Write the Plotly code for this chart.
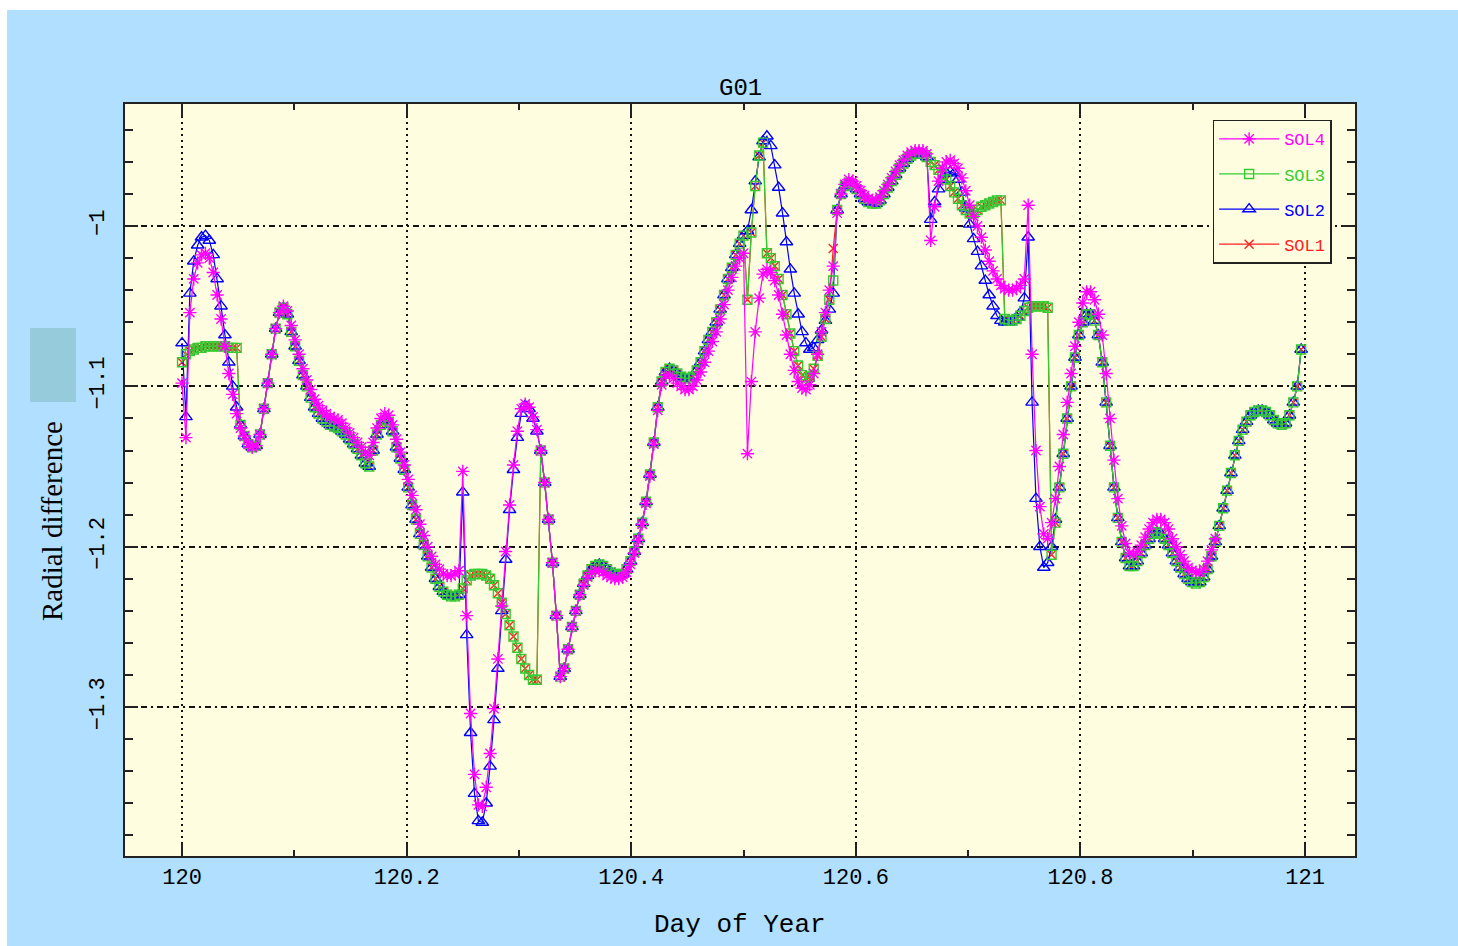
import plotly.graph_objects as go

# ---- data (5-minute samples starting at day 120.0) ----
step_minutes = 5
start_day = 120.0

sol3 = [
    -1.085, -1.080, -1.078, -1.077, -1.076, -1.076, -1.075, -1.075, -1.075, -1.075, -1.075, -1.075,
    -1.076, -1.076, -1.076, -1.124, -1.131, -1.136, -1.138, -1.137, -1.130, -1.114, -1.098, -1.080,
    -1.064, -1.054, -1.051, -1.055, -1.066, -1.075, -1.084, -1.093, -1.100, -1.107, -1.113, -1.117,
    -1.120, -1.122, -1.124, -1.125, -1.126, -1.128, -1.130, -1.133, -1.136, -1.139, -1.143, -1.148,
    -1.150, -1.140, -1.130, -1.124, -1.121, -1.122, -1.128, -1.138, -1.145, -1.152, -1.163, -1.174,
    -1.183, -1.192, -1.199, -1.206, -1.213, -1.220, -1.225, -1.228, -1.230, -1.231, -1.231, -1.230,
    -1.226, -1.221, -1.218, -1.217, -1.217, -1.217, -1.218, -1.220, -1.224, -1.229, -1.235, -1.242,
    -1.249, -1.256, -1.263, -1.270, -1.276, -1.280, -1.283, -1.283, -1.140, -1.160, -1.183, -1.210,
    -1.243, -1.281, -1.276, -1.264, -1.250, -1.240, -1.230, -1.223, -1.218, -1.214, -1.212, -1.211,
    -1.212, -1.214, -1.216, -1.217, -1.218, -1.217, -1.214, -1.209, -1.203, -1.195, -1.185, -1.172,
    -1.155, -1.135, -1.113, -1.097, -1.091, -1.089, -1.090, -1.092, -1.094, -1.095, -1.095, -1.094,
    -1.090, -1.085, -1.078, -1.071, -1.066, -1.060, -1.052, -1.043, -1.033, -1.026, -1.018, -1.011,
    -1.006, -1.046, -1.004, -0.975, -0.956, -0.948, -1.017, -1.020, -1.025, -1.033, -1.043, -1.055,
    -1.067, -1.078, -1.087, -1.093, -1.095, -1.094, -1.089, -1.081, -1.069, -1.058, -1.046, -1.034,
    -0.990, -0.980, -0.975, -0.973, -0.974, -0.977, -0.980, -0.983, -0.985, -0.986, -0.986, -0.984,
    -0.980, -0.976, -0.972, -0.968, -0.964, -0.961, -0.958, -0.956, -0.955, -0.955, -0.955, -0.957,
    -0.960, -0.962, -0.965, -0.968, -0.971, -0.975, -0.979, -0.983, -0.987, -0.990, -0.992, -0.992,
    -0.990, -0.988, -0.987, -0.986, -0.985, -0.984, -0.984, -1.058, -1.059, -1.059, -1.058, -1.056,
    -1.053, -1.051, -1.050, -1.050, -1.050, -1.050, -1.051, -1.205, -1.185, -1.163, -1.142, -1.120,
    -1.100, -1.082, -1.068, -1.060, -1.055, -1.055, -1.059, -1.068, -1.085, -1.110, -1.137, -1.163,
    -1.182, -1.197, -1.207, -1.212, -1.212, -1.209, -1.204, -1.199, -1.195, -1.192, -1.191, -1.192,
    -1.195, -1.199, -1.204, -1.209, -1.213, -1.217, -1.220, -1.222, -1.223, -1.222, -1.219, -1.214,
    -1.206, -1.197, -1.187, -1.176, -1.165, -1.154, -1.143, -1.134, -1.127, -1.122, -1.118, -1.116,
    -1.115, -1.115, -1.116, -1.118, -1.121, -1.123, -1.124, -1.123, -1.118, -1.110, -1.100, -1.077,
]

sol1 = [
    -1.085, -1.080, -1.078, -1.077, -1.076, -1.076, -1.075, -1.075, -1.075, -1.075, -1.075, -1.075,
    -1.076, -1.076, -1.076, -1.124, -1.131, -1.136, -1.138, -1.137, -1.130, -1.114, -1.098, -1.080,
    -1.064, -1.054, -1.051, -1.055, -1.066, -1.075, -1.084, -1.093, -1.100, -1.107, -1.113, -1.117,
    -1.120, -1.122, -1.124, -1.125, -1.126, -1.128, -1.130, -1.133, -1.136, -1.139, -1.143, -1.148,
    -1.150, -1.140, -1.130, -1.124, -1.121, -1.122, -1.128, -1.138, -1.145, -1.152, -1.163, -1.174,
    -1.183, -1.192, -1.199, -1.206, -1.213, -1.220, -1.225, -1.228, -1.230, -1.231, -1.231, -1.230,
    -1.226, -1.221, -1.218, -1.217, -1.217, -1.217, -1.218, -1.220, -1.224, -1.229, -1.235, -1.242,
    -1.249, -1.256, -1.263, -1.270, -1.276, -1.280, -1.283, -1.283, -1.140, -1.160, -1.183, -1.210,
    -1.243, -1.281, -1.276, -1.264, -1.250, -1.240, -1.230, -1.223, -1.218, -1.214, -1.212, -1.211,
    -1.212, -1.214, -1.216, -1.217, -1.218, -1.217, -1.214, -1.209, -1.203, -1.195, -1.185, -1.172,
    -1.155, -1.135, -1.113, -1.097, -1.091, -1.089, -1.090, -1.092, -1.094, -1.095, -1.095, -1.094,
    -1.090, -1.085, -1.078, -1.071, -1.066, -1.060, -1.052, -1.043, -1.033, -1.026, -1.018, -1.011,
    -1.006, -1.046, -1.004, -0.975, -0.956, -0.948, -1.017, -1.020, -1.025, -1.033, -1.043, -1.055,
    -1.067, -1.078, -1.087, -1.093, -1.095, -1.094, -1.089, -1.081, -1.069, -1.058, -1.046, -1.014,
    -0.990, -0.980, -0.975, -0.973, -0.974, -0.977, -0.980, -0.983, -0.985, -0.986, -0.986, -0.984,
    -0.980, -0.976, -0.972, -0.968, -0.964, -0.961, -0.958, -0.956, -0.955, -0.955, -0.955, -0.957,
    -0.960, -0.962, -0.965, -0.968, -0.971, -0.975, -0.979, -0.983, -0.987, -0.990, -0.992, -0.992,
    -0.990, -0.988, -0.987, -0.986, -0.985, -0.984, -0.984, -1.058, -1.059, -1.059, -1.058, -1.056,
    -1.053, -1.051, -1.050, -1.050, -1.050, -1.050, -1.051, -1.205, -1.185, -1.163, -1.142, -1.120,
    -1.100, -1.082, -1.068, -1.060, -1.055, -1.055, -1.059, -1.068, -1.085, -1.110, -1.137, -1.163,
    -1.182, -1.197, -1.207, -1.212, -1.212, -1.209, -1.204, -1.199, -1.195, -1.192, -1.191, -1.192,
    -1.195, -1.199, -1.204, -1.209, -1.213, -1.217, -1.220, -1.222, -1.223, -1.222, -1.219, -1.214,
    -1.206, -1.197, -1.187, -1.176, -1.165, -1.154, -1.143, -1.134, -1.127, -1.122, -1.118, -1.116,
    -1.115, -1.115, -1.116, -1.118, -1.121, -1.123, -1.124, -1.123, -1.118, -1.110, -1.100, -1.077,
]

sol2 = [
    -1.073, -1.119, -1.042, -1.022, -1.012, -1.007, -1.006, -1.009, -1.018, -1.033, -1.050, -1.068,
    -1.085, -1.100, -1.113, -1.124, -1.131, -1.136, -1.138, -1.137, -1.130, -1.114, -1.098, -1.080,
    -1.064, -1.054, -1.051, -1.055, -1.066, -1.075, -1.084, -1.093, -1.100, -1.107, -1.113, -1.117,
    -1.120, -1.122, -1.124, -1.125, -1.126, -1.128, -1.130, -1.133, -1.136, -1.139, -1.143, -1.148,
    -1.150, -1.140, -1.130, -1.124, -1.121, -1.122, -1.128, -1.138, -1.145, -1.152, -1.163, -1.174,
    -1.183, -1.192, -1.199, -1.206, -1.213, -1.220, -1.225, -1.228, -1.230, -1.231, -1.231, -1.230,
    -1.166, -1.255, -1.316, -1.354, -1.371, -1.372, -1.360, -1.337, -1.308, -1.276, -1.240, -1.208,
    -1.177, -1.152, -1.132, -1.117, -1.112, -1.114, -1.120, -1.128, -1.140, -1.160, -1.183, -1.210,
    -1.243, -1.281, -1.276, -1.264, -1.250, -1.240, -1.230, -1.223, -1.218, -1.214, -1.212, -1.211,
    -1.212, -1.214, -1.216, -1.217, -1.218, -1.217, -1.214, -1.209, -1.203, -1.195, -1.185, -1.172,
    -1.155, -1.135, -1.113, -1.097, -1.091, -1.089, -1.090, -1.092, -1.094, -1.095, -1.095, -1.094,
    -1.090, -1.085, -1.078, -1.071, -1.066, -1.060, -1.052, -1.043, -1.033, -1.026, -1.018, -1.011,
    -1.006, -1.003, -0.990, -0.972, -0.957, -0.947, -0.944, -0.950, -0.962, -0.976, -0.992, -1.010,
    -1.027, -1.042, -1.055, -1.066, -1.073, -1.077, -1.076, -1.071, -1.065, -1.059, -1.052, -1.042,
    -0.990, -0.980, -0.975, -0.973, -0.974, -0.977, -0.980, -0.983, -0.985, -0.986, -0.986, -0.984,
    -0.980, -0.976, -0.972, -0.968, -0.964, -0.961, -0.958, -0.956, -0.955, -0.955, -0.955, -0.957,
    -0.996, -0.985, -0.977, -0.971, -0.967, -0.966, -0.967, -0.971, -0.979, -0.989, -0.999, -1.008,
    -1.016, -1.025, -1.034, -1.043, -1.050, -1.056, -1.059, -1.060, -1.060, -1.059, -1.057, -1.054,
    -1.045, -1.007, -1.110, -1.170, -1.200, -1.213, -1.210, -1.200, -1.183, -1.163, -1.142, -1.120,
    -1.100, -1.082, -1.068, -1.060, -1.055, -1.055, -1.059, -1.068, -1.085, -1.110, -1.137, -1.163,
    -1.182, -1.197, -1.207, -1.212, -1.212, -1.209, -1.204, -1.199, -1.195, -1.192, -1.191, -1.192,
    -1.195, -1.199, -1.204, -1.209, -1.213, -1.217, -1.220, -1.222, -1.223, -1.222, -1.219, -1.214,
    -1.206, -1.197, -1.187, -1.176, -1.165, -1.154, -1.143, -1.134, -1.127, -1.122, -1.118, -1.116,
    -1.115, -1.115, -1.116, -1.118, -1.121, -1.123, -1.124, -1.123, -1.118, -1.110, -1.100, -1.077,
]

sol4 = [
    -1.098, -1.132, -1.054, -1.033, -1.023, -1.018, -1.017, -1.020, -1.029, -1.043, -1.058, -1.075,
    -1.092, -1.105, -1.117, -1.126, -1.131, -1.136, -1.138, -1.137, -1.130, -1.114, -1.098, -1.080,
    -1.064, -1.054, -1.050, -1.053, -1.062, -1.071, -1.080, -1.089, -1.096, -1.102, -1.108, -1.112,
    -1.115, -1.117, -1.119, -1.120, -1.121, -1.123, -1.126, -1.129, -1.132, -1.135, -1.138, -1.141,
    -1.143, -1.135, -1.126, -1.120, -1.117, -1.118, -1.124, -1.133, -1.141, -1.149, -1.158, -1.168,
    -1.177, -1.186, -1.193, -1.200, -1.206, -1.211, -1.214, -1.217, -1.218, -1.218, -1.217, -1.215,
    -1.153, -1.243, -1.304, -1.342, -1.361, -1.362, -1.350, -1.329, -1.301, -1.270, -1.237, -1.203,
    -1.174, -1.149, -1.128, -1.114, -1.111, -1.113, -1.119, -1.127, -1.140, -1.160, -1.183, -1.210,
    -1.243, -1.281, -1.276, -1.264, -1.250, -1.240, -1.230, -1.224, -1.219, -1.216, -1.215, -1.215,
    -1.216, -1.218, -1.219, -1.220, -1.220, -1.219, -1.216, -1.211, -1.204, -1.196, -1.186, -1.173,
    -1.156, -1.136, -1.115, -1.099, -1.093, -1.093, -1.095, -1.098, -1.100, -1.102, -1.102, -1.100,
    -1.096, -1.091, -1.085, -1.078, -1.072, -1.066, -1.058, -1.049, -1.040, -1.032, -1.025, -1.020,
    -1.017, -1.142, -1.097, -1.066, -1.045, -1.030, -1.027, -1.029, -1.034, -1.043, -1.055, -1.068,
    -1.080, -1.090, -1.097, -1.101, -1.102, -1.099, -1.092, -1.080, -1.066, -1.054, -1.040, -1.025,
    -0.992, -0.980, -0.974, -0.971, -0.972, -0.975, -0.978, -0.981, -0.983, -0.984, -0.984, -0.982,
    -0.978, -0.974, -0.970, -0.966, -0.962, -0.959, -0.956, -0.954, -0.953, -0.953, -0.953, -0.955,
    -1.009, -0.988, -0.972, -0.964, -0.960, -0.959, -0.961, -0.964, -0.970, -0.978, -0.987, -0.994,
    -1.000, -1.007, -1.015, -1.022, -1.028, -1.033, -1.037, -1.039, -1.040, -1.040, -1.039, -1.037,
    -1.033, -0.987, -1.080, -1.140, -1.175, -1.192, -1.195, -1.185, -1.170, -1.150, -1.130, -1.110,
    -1.092, -1.075, -1.060, -1.048, -1.041, -1.041, -1.046, -1.055, -1.068, -1.092, -1.120, -1.146,
    -1.170, -1.187, -1.198, -1.204, -1.205, -1.203, -1.199, -1.194, -1.189, -1.185, -1.183, -1.183,
    -1.185, -1.189, -1.195, -1.200, -1.205, -1.209, -1.213, -1.215, -1.216, -1.216, -1.214, -1.209,
    -1.202, -1.195,
]

series_names = ["SOL1", "SOL2", "SOL3", "SOL4"]
series_values = [sol1, sol2, sol3, sol4]
series_colors = ["#ff2020", "#0000ff", "#33cc33", "#ff00ff"]
series_symbols = ["x-thin-open", "triangle-up-open", "square-open", "asterisk-open"]
series_sizes = [9, 11, 9, 11]
legend_ranks = [4, 3, 2, 1]

x_tick_vals = [120, 120.2, 120.4, 120.6, 120.8, 121]
x_tick_text = ["120", "120.2", "120.4", "120.6", "120.8", "121"]
y_tick_vals = [-1.3, -1.2, -1.1, -1.0]
y_tick_text = ["\u22121.3", "\u22121.2", "\u22121.1", "\u22121"]


def day_axis(n):
    return [start_day + i * step_minutes / 1440.0 for i in range(n)]


fig = go.Figure()
for name, vals, col, sym, sz, rk in zip(series_names, series_values, series_colors,
                                       series_symbols, series_sizes, legend_ranks):
    fig.add_trace(go.Scatter(
        x=day_axis(len(vals)), y=vals, mode="lines+markers",
        name=f'<span style="color:{col}">{name}</span>',
        legendgroup=name, legendrank=rk,
        line=dict(color=col, width=1.2),
        marker=dict(symbol=sym, size=sz, color=col, line=dict(color=col, width=1.4)),
    ))

axis_common = dict(
    showline=True, linecolor="#222222", linewidth=2, mirror="allticks",
    ticks="inside", ticklen=13, tickwidth=1.5, tickcolor="#222222",
    showgrid=True, gridcolor="#111111", gridwidth=1.5,
    zeroline=False,
    tickfont=dict(family="Liberation Mono", size=22, color="#000000"),
)

fig.update_xaxes(
    range=[119.9492, 121.0445], tickmode="array", tickvals=x_tick_vals, ticktext=x_tick_text,
    griddash="2px,4px",
    minor=dict(dtick=0.1, tick0=120, ticks="inside", ticklen=6, tickcolor="#222222", showgrid=False),
    **axis_common,
)
fig.update_yaxes(
    range=[-1.3929, -0.9239], tickmode="array", tickvals=y_tick_vals, ticktext=y_tick_text,
    tickangle=-90, griddash="6px,4px,2px,4px", ticklabelstandoff=10,
    minor=dict(dtick=0.02, tick0=-1.0, ticks="inside", ticklen=8, tickcolor="#222222", showgrid=False),
    **axis_common,
)

fig.update_layout(
    width=1451, height=936,
    margin=dict(l=118, r=103, t=94, b=90),
    paper_bgcolor="#b0dfff",
    plot_bgcolor="#fffde0",
    showlegend=True,
    legend=dict(
        x=0.981, xanchor="right", y=0.979, yanchor="top",
        bgcolor="#fffde0", bordercolor="#222222", borderwidth=1.5,
        font=dict(family="Liberation Mono", size=17),
        traceorder="grouped", tracegroupgap=10, itemwidth=60,
    ),
    annotations=[
        dict(text="G01", xref="paper", yref="paper", x=0.5, y=1.02, showarrow=False,
             xanchor="center", yanchor="middle",
             font=dict(family="Liberation Mono", size=24, color="#000000")),
        dict(text="Day of Year", xref="paper", yref="paper", x=0.5, y=-0.092, showarrow=False,
             xanchor="center", yanchor="middle",
             font=dict(family="Liberation Mono", size=26, color="#000000")),
        dict(text="Radial difference", xref="paper", yref="paper", x=-0.0593, y=0.4455,
             showarrow=False, textangle=-90, xanchor="center", yanchor="middle",
             font=dict(family="Liberation Serif", size=29, color="#000000")),
    ],
    shapes=[
        dict(type="rect", xref="paper", yref="paper", x0=-0.0772, x1=-0.0398, y0=0.6037, y1=0.7021,
             fillcolor="#96cbdb", line=dict(width=0), layer="below"),
    ],
)

fig.write_html(
    "out.html",
    post_script="document.body.style.margin='10px 0 0 7px';document.body.style.overflow='hidden';",
)
